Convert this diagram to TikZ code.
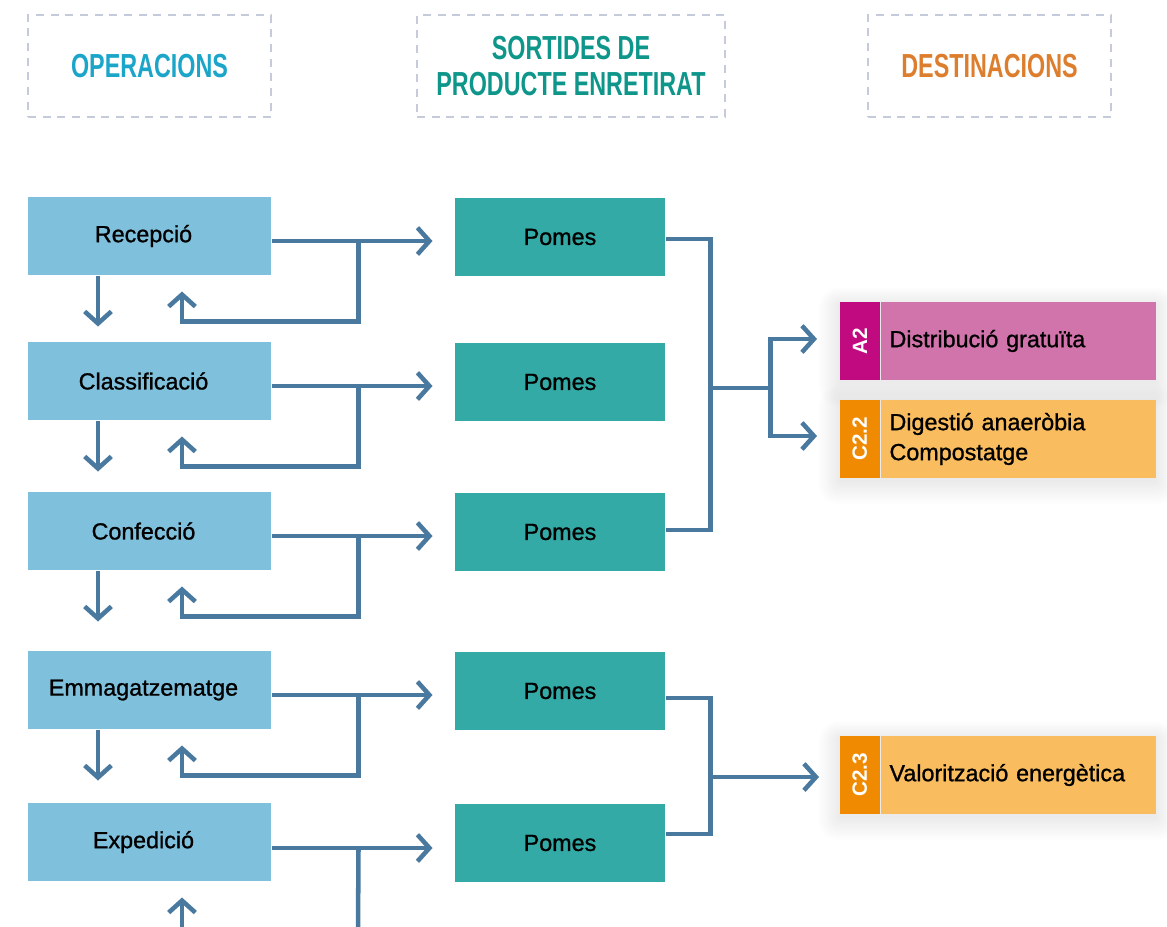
\documentclass[tikz,border=0pt]{standalone}
\usepackage{fontspec}
\setmainfont{Liberation Sans}
\newfontfamily\condfont[FakeStretch=0.7]{Liberation Sans}
\newfontfamily\medfont[FakeBold=1]{Liberation Sans}
\usetikzlibrary{arrows.meta,calc}

\definecolor{opblue}{HTML}{7FC0DC}
\definecolor{pomteal}{HTML}{33AAA6}
\definecolor{linkblue}{HTML}{4A79A0}
\definecolor{dashgray}{HTML}{C5CBDA}
\definecolor{hdblue}{HTML}{1BA5C9}
\definecolor{hdteal}{HTML}{0E968B}
\definecolor{hdorange}{HTML}{DD7E2E}
\definecolor{magdark}{HTML}{C10A7F}
\definecolor{maglight}{HTML}{D274AC}
\definecolor{ordark}{HTML}{F08A00}
\definecolor{orlight}{HTML}{F9BD5F}

\tikzset{every picture/.style={line width=0.75pt}}

\begin{document}
\begin{tikzpicture}[x=0.75pt,y=0.75pt,yscale=-1,xscale=1,
  hdbox/.style={draw=dashgray,dashed,dash pattern=on 6pt off 5pt,line width=1.5pt,minimum height=76.5pt,inner sep=0pt,align=center,font=\condfont\bfseries\fontsize{25}{27}\selectfont},
  opbox/.style={fill=opblue,minimum width=182.25pt,minimum height=58.5pt,inner sep=0pt,font=\medfont\fontsize{17.5}{20}\selectfont},
  pombox/.style={fill=pomteal,minimum width=157.5pt,minimum height=58.5pt,inner sep=0pt,font=\medfont\fontsize{17.5}{20}\selectfont},
  destbox/.style={anchor=west,minimum width=206.25pt,minimum height=58.5pt,inner xsep=6.75pt,inner ysep=0pt,text width=192.75pt,align=left,font=\medfont\fontsize{17.5}{22.5}\selectfont},
  tabbox/.style={anchor=east,minimum width=30.5pt,minimum height=58.5pt,inner sep=0pt,text=white,font=\bfseries\fontsize{15.5}{18}\selectfont},
  flow/.style={draw=linkblue,line width=3.4pt},
  tip/.style={-{Straight Barb[length=9pt,width=20pt]}}
]
\useasboundingbox (0,0) rectangle (1167,926);

%Header boxes
\node [hdbox,minimum width=182.25pt,text=hdblue] (hop) at (149.5,66) {OPERACIONS};
\node [hdbox,minimum width=231pt,text=hdteal] (hso) at (571,66) {SORTIDES DE\\PRODUCTE ENRETIRAT};
\node [hdbox,minimum width=182.25pt,text=hdorange] (hde) at (989.5,66) {DESTINACIONS};

%Operations
\node [opbox] (rec) at (149.5,236) {\hspace*{-9pt}Recepció};
\node [opbox] (cla) at (149.5,381) {\hspace*{-9pt}Classificació};
\node [opbox] (con) at (149.5,531) {\hspace*{-9pt}Confecció};
\node [opbox] (emm) at (149.5,690) {\hspace*{-9pt}Emmagatzematge};
\node [opbox] (exp) at (149.5,842) {\hspace*{-9pt}Expedició};

%Withdrawn product
\node [pombox] (p1) at (560,237) {Pomes};
\node [pombox] (p2) at (560,382) {Pomes};
\node [pombox] (p3) at (560,532) {Pomes};
\node [pombox] (p4) at (560,691) {Pomes};
\node [pombox] (p5) at (560,843) {Pomes};

%Destinations (soft shadow first)
\foreach \cy in {341,439,775} {
  \foreach \s in {1,...,20} {
    \fill [black,opacity=0.005,rounded corners=\s*0.8] (840-\s*1.1,\cy-39-\s*0.9+3) rectangle (1155+\s*1.1,\cy+39+\s*1.2+3);
  }
}
\node [destbox,fill=maglight] (a2) at (880,341) {Distribució gratuïta};
\node [tabbox,fill=magdark] (a2tab) at ([xshift=0.5pt]a2.west) {\rotatebox{90}{A2}};
\node [destbox,fill=orlight] (c22) at (880,439) {Digestió anaeròbia\\Compostatge};
\node [tabbox,fill=ordark] (c22tab) at ([xshift=0.5pt]c22.west) {\rotatebox{90}{C2.2}};
\node [destbox,fill=orlight] (c23) at (880,775) {Valorització energètica};
\node [tabbox,fill=ordark] (c23tab) at ([xshift=0.5pt]c23.west) {\rotatebox{90}{C2.3}};

%Operation -> product, feedback and next step
\foreach \o/\p in {rec/p1,cla/p2,con/p3,emm/p4} {
  \draw [flow,tip] ($(\o.east)+(0,5)$) -- ($(\p.west)+(-22,4)$);
  \draw [flow,tip] ($(\o.east)+(87,5)$) |- ($(\o.south)+(32.5,46)$) -- ($(\o.south)+(32.5,16)$);
  \draw [flow,tip] ($(\o.south)+(-51.5,0)$) -- ++(0,51);
}
\draw [flow,tip] ($(exp.east)+(0,6)$) -- ($(p5.west)+(-22,5)$);
\draw [flow] ($(exp.east)+(87,6)$) -- ($(exp.south)+(208.5,50)$);
\draw [flow,tip] ($(exp.south)+(32.5,50)$) -- ($(exp.south)+(32.5,16)$);

%Product -> destinations
\draw [flow] ($(p1.east)+(0,2)$) -- ++(45,0) |- ($(p3.east)+(0,-2)$);
\draw [flow] ($(p2.east)+(45,6)$) coordinate (s1) -- ++(60,0) coordinate (s2);
\draw [flow,tip] (s2) |- ($(a2tab.west)+(-22,-2)$);
\draw [flow,tip] (s2) |- ($(c22tab.west)+(-22,-3)$);
\draw [flow] ($(p4.east)+(0,7)$) -- ++(45,0) |- ($(p5.east)+(0,-9)$);
\draw [flow,tip] ($(p4.east)+(45,86)$) -- ($(c23tab.west)+(-20,2)$);

\end{tikzpicture}
\end{document}
